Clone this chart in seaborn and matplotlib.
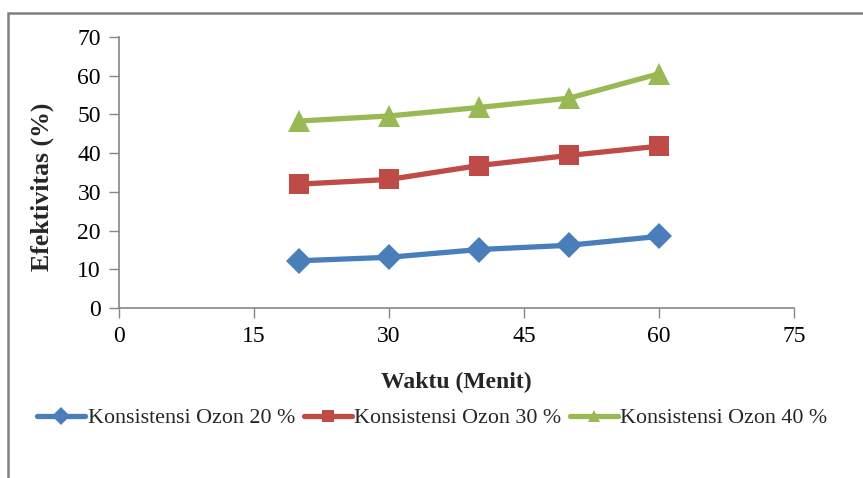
import matplotlib
matplotlib.use("Agg")
import matplotlib.pyplot as plt
import matplotlib.patches as mpatches
import seaborn as sns
import pandas as pd

# Reaction time (minutes) and ozone-treatment effectiveness (%)
waktu = [20, 30, 40, 50, 60]
ozon_20 = [12.2, 13.1, 15.1, 16.2, 18.5]
ozon_30 = [32.0, 33.2, 36.8, 39.4, 41.8]
ozon_40 = [48.3, 49.6, 51.8, 54.2, 60.5]
series_labels = ["Konsistensi Ozon 20 %", "Konsistensi Ozon 30 %", "Konsistensi Ozon 40 %"]
x_ticks = [0, 15, 30, 45, 60, 75]
y_ticks = [0, 10, 20, 30, 40, 50, 60, 70]

df = pd.DataFrame({
    "Waktu": waktu * 3,
    "Efektivitas": ozon_20 + ozon_30 + ozon_40,
    "Seri": [series_labels[0]] * 5 + [series_labels[1]] * 5 + [series_labels[2]] * 5,
})

sns.set_theme(style="white")
plt.rcParams["font.family"] = ["Liberation Serif", "DejaVu Serif"]

colors = ["#4A7EBB", "#BE4B48", "#98B954"]
markers = ["D", "s", "^"]
msizes = [13, 14, 16]

fig = plt.figure(figsize=(8.63, 4.78), dpi=100)
ax = fig.add_axes([119 / 863, 1 - 308 / 478, (794 - 119) / 863, (308 - 37) / 478])

for lab, col, mk, ms in zip(series_labels, colors, markers, msizes):
    sub = df[df["Seri"] == lab]
    sns.lineplot(data=sub, x="Waktu", y="Efektivitas", ax=ax, color=col,
                 marker=mk, markersize=ms, markeredgewidth=0, linewidth=3.8,
                 label=lab, legend=False)

ax.set_xlim(0, 75)
ax.set_ylim(0, 70)
ax.set_xticks(x_ticks)
ax.set_yticks(y_ticks)
ax.tick_params(axis="both", which="major", direction="out", length=7, width=1,
               color="#868686", labelsize=17, labelcolor="#000000", pad=6, left=True, bottom=True)
for side in ["top", "right"]:
    ax.spines[side].set_visible(False)
for side in ["left", "bottom"]:
    ax.spines[side].set_color("#868686")
    ax.spines[side].set_linewidth(1.2)

ax.set_xlabel("Waktu (Menit)", fontsize=17, fontweight="bold")
ax.xaxis.set_label_coords(0.5, -0.236)
ax.set_ylabel("Efektivitas (%)", fontsize=18.5, fontweight="bold")
ax.yaxis.set_label_coords(-0.096, 0.446)
ax.grid(False)

# Legend with small markers, laid out horizontally beneath the axis title
handles = [plt.Line2D([0], [0], color=c, marker=m, markersize=9, markeredgewidth=0, linewidth=3.8)
           for c, m in zip(colors, markers)]
fig.legend(handles, series_labels, loc="center", bbox_to_anchor=(0.501, 1 - 418 / 478),
           ncol=3, frameon=False, fontsize=15.8, handlelength=2.2, handletextpad=0.1,
           columnspacing=0.4)

# Chart-area border
fig.patches.append(mpatches.Rectangle((8 / 863, -0.1), 1.2, 1 - 13 / 478 + 0.1,
                                      transform=fig.transFigure, fill=False,
                                      edgecolor="#808080", linewidth=1.8))

fig.savefig("out.png", dpi=100)
